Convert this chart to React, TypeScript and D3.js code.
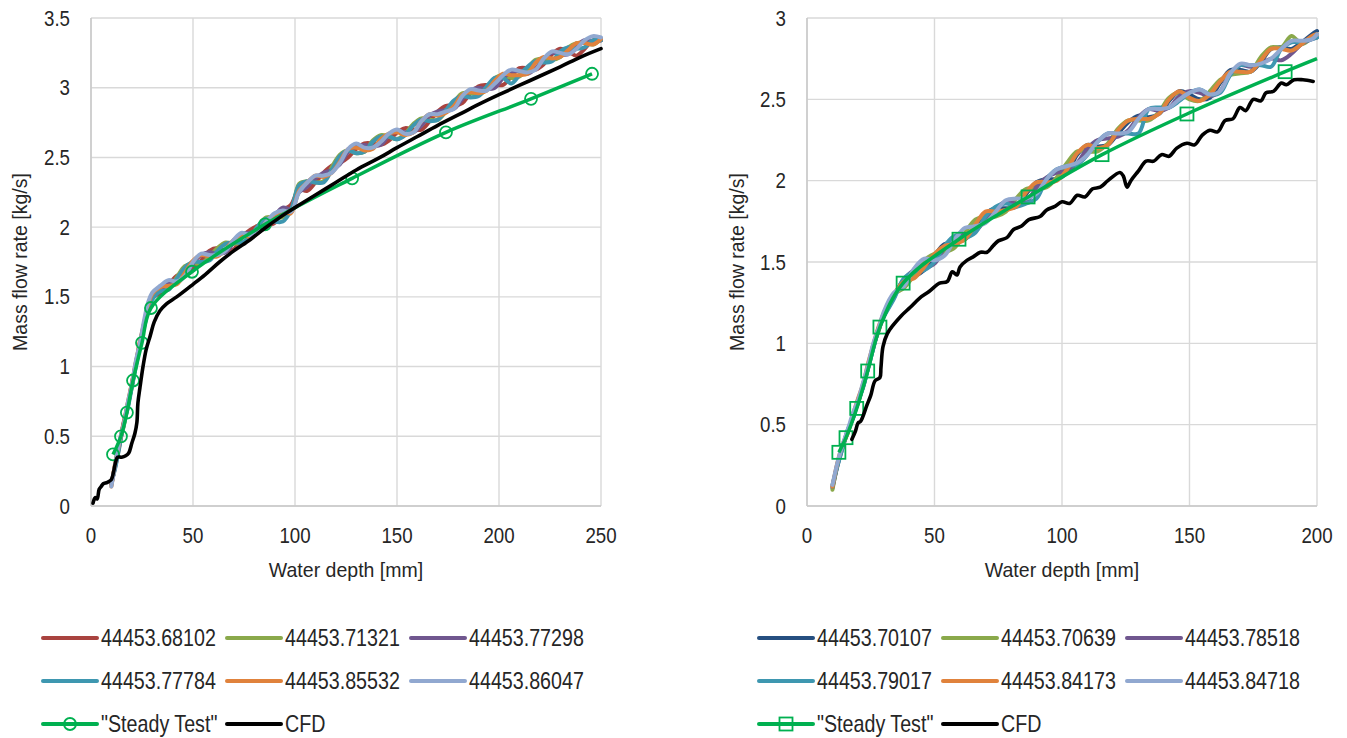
import React, { useEffect, useRef } from "react";
import * as d3 from "d3";

// ---- left panel: 6 unsteady runs, steady test, CFD ----
const depthLeft = [10, 12, 14, 16, 18, 20, 22, 24, 26, 28, 30,
  34, 38, 42, 46, 50, 54, 58, 62, 66, 70, 74, 78, 82, 86, 90, 94, 98, 102, 106, 110, 114, 118, 122, 126, 130,
  134, 138, 142, 146, 150, 154, 158, 162, 166, 170, 174, 178, 182, 186, 190, 194, 198, 202, 206, 210, 214, 218,
  222, 226, 230, 234, 238, 242, 246, 250];

const runsLeft = ["44453.68102", "44453.71321", "44453.77298", "44453.77784", "44453.85532", "44453.86047"];

const flowL68102 = [.16, .29, .44, .60, .71, .88, 1.01, 1.18, 1.29, 1.43, 1.49,
  1.53, 1.59, 1.65, 1.68, 1.70, 1.76, 1.83, 1.85, 1.83, 1.84, 1.93, 1.98, 2.01, 2.01, 2.03, 2.12, 2.16, 2.27, 2.26, 2.32,
  2.39, 2.44, 2.46, 2.50, 2.56, 2.60, 2.60, 2.59, 2.62, 2.68, 2.71, 2.70, 2.70, 2.76, 2.83, 2.87, 2.87, 2.89, 2.96, 3.01,
  3.02, 3.02, 3.02, 3.08, 3.14, 3.14, 3.13, 3.17, 3.24, 3.28, 3.26, 3.23, 3.28, 3.34, 3.34];
const flowL71321 = [.15, .31, .46, .57, .73, .85, 1.03, 1.15, 1.31, 1.41, 1.51,
  1.56, 1.56, 1.64, 1.72, 1.74, 1.74, 1.79, 1.85, 1.89, 1.88, 1.89, 1.93, 2.01, 2.07, 2.07, 2.07, 2.11, 2.31, 2.33, 2.32,
  2.33, 2.43, 2.52, 2.55, 2.53, 2.54, 2.62, 2.66, 2.65, 2.63, 2.67, 2.74, 2.78, 2.77, 2.77, 2.83, 2.90, 2.96, 2.96, 2.95,
  2.99, 3.07, 3.09, 3.07, 3.08, 3.14, 3.20, 3.21, 3.20, 3.22, 3.29, 3.32, 3.32, 3.31, 3.35];
const flowL77298 = [.16, .30, .45, .58, .72, .86, 1.02, 1.16, 1.30, 1.42, 1.50,
  1.55, 1.60, 1.60, 1.65, 1.74, 1.80, 1.82, 1.81, 1.82, 1.89, 1.95, 1.96, 1.97, 2.00, 2.08, 2.14, 2.13, 2.25, 2.29, 2.35,
  2.39, 2.41, 2.45, 2.54, 2.58, 2.59, 2.58, 2.59, 2.66, 2.69, 2.68, 2.68, 2.73, 2.80, 2.83, 2.84, 2.85, 2.92, 2.98, 3.00,
  2.99, 3.00, 3.07, 3.11, 3.12, 3.10, 3.14, 3.21, 3.25, 3.24, 3.24, 3.30, 3.34, 3.33, 3.34];
const flowL77784 = [.17, .28, .43, .59, .70, .85, 1.00, 1.15, 1.28, 1.40, 1.48,
  1.54, 1.55, 1.63, 1.71, 1.75, 1.75, 1.76, 1.83, 1.88, 1.89, 1.89, 1.93, 2.01, 2.06, 2.04, 2.04, 2.12, 2.30, 2.33, 2.32,
  2.32, 2.41, 2.51, 2.55, 2.53, 2.54, 2.61, 2.65, 2.65, 2.63, 2.66, 2.73, 2.77, 2.76, 2.77, 2.84, 2.91, 2.94, 2.93, 2.94,
  3.01, 3.07, 3.07, 3.03, 3.09, 3.15, 3.19, 3.18, 3.19, 3.26, 3.29, 3.28, 3.29, 3.34, 3.34];
const flowL85532 = [.14, .32, .46, .59, .74, .88, 1.03, 1.18, 1.31, 1.44, 1.52,
  1.57, 1.58, 1.59, 1.67, 1.76, 1.80, 1.79, 1.79, 1.84, 1.91, 1.94, 1.93, 1.96, 2.04, 2.09, 2.11, 2.10, 2.26, 2.32, 2.37,
  2.36, 2.39, 2.47, 2.56, 2.57, 2.55, 2.56, 2.63, 2.67, 2.68, 2.66, 2.68, 2.76, 2.81, 2.80, 2.82, 2.87, 2.95, 2.97, 2.96,
  2.98, 3.05, 3.10, 3.09, 3.09, 3.10, 3.18, 3.22, 3.21, 3.22, 3.27, 3.32, 3.32, 3.31, 3.35];
const flowL86047 = [.14, .31, .47, .58, .74, .87, 1.04, 1.17, 1.33, 1.46, 1.53,
  1.58, 1.62, 1.61, 1.65, 1.75, 1.81, 1.80, 1.80, 1.83, 1.91, 1.96, 1.94, 1.96, 2.04, 2.10, 2.12, 2.11, 2.25, 2.32, 2.37,
  2.37, 2.39, 2.46, 2.56, 2.60, 2.57, 2.57, 2.61, 2.67, 2.70, 2.67, 2.68, 2.76, 2.81, 2.81, 2.83, 2.85, 2.94, 2.99, 2.98,
  2.98, 3.03, 3.09, 3.13, 3.12, 3.11, 3.13, 3.21, 3.26, 3.25, 3.24, 3.28, 3.34, 3.37, 3.36];

const steadyLeftX = [10.8, 14.7, 17.6, 20.6, 25, 29.4, 49.5, 85.3, 128, 174, 215.7, 245.6];
const steadyLeftY = [0.37, 0.5, 0.67, 0.9, 1.17, 1.42, 1.68, 2.02, 2.35, 2.68, 2.92, 3.1];

const cfdLeftX = [1, 2, 3, 4, 5, 6, 8, 10, 11, 12, 13, 15, 17, 18.5, 20, 21.5, 22.5, 23, 24, 25.5, 27, 29, 31, 33.8, 37,
  42, 50, 56, 63, 70, 78, 85, 92.6, 100, 110, 120, 130, 141.7, 150, 160, 170, 182, 190, 200, 215, 230, 240, 250];
const cfdLeftY = [0.02, 0.06, 0.05, 0.12, 0.14, 0.16, 0.17, 0.19, 0.24, 0.31, 0.35, 0.35, 0.36, 0.38, 0.45, 0.52, 0.6,
  0.74, 0.85, 1.0, 1.12, 1.22, 1.32, 1.4, 1.45, 1.5, 1.59, 1.66, 1.75, 1.83, 1.91, 1.99, 2.07, 2.14, 2.23, 2.32, 2.41,
  2.5, 2.57, 2.65, 2.73, 2.82, 2.88, 2.95, 3.05, 3.15, 3.22, 3.28];

// ---- right panel ----
const depthRight = [10, 12, 14, 16, 18, 20, 22, 24, 26, 28, 30,
  34, 38, 42, 46, 50, 54, 58, 62, 66, 70, 74, 78, 82, 86, 90, 94, 98, 102, 106, 110, 114, 118, 122, 126, 130,
  134, 138, 142, 146, 150, 154, 158, 162, 166, 170, 174, 178, 182, 186, 190, 194, 198, 200];

const runsRight = ["44453.70107", "44453.70639", "44453.78518", "44453.79017", "44453.84173", "44453.84718"];

const flowR70107 = [.11, .25, .36, .46, .54, .64, .73, .85, .97, 1.08, 1.16,
  1.28, 1.39, 1.41, 1.45, 1.54, 1.61, 1.62, 1.64, 1.71, 1.80, 1.83, 1.83, 1.84, 1.92, 1.99, 2.01, 2.01, 2.05, 2.16,
  2.22, 2.21, 2.22, 2.29, 2.36, 2.40, 2.39, 2.41, 2.49, 2.55, 2.53, 2.50, 2.51, 2.60, 2.68, 2.68, 2.67, 2.73, 2.81,
  2.82, 2.81, 2.85, 2.90, 2.92];
const flowR70639 = [.10, .26, .37, .45, .56, .63, .75, .85, .99, 1.07, 1.18,
  1.30, 1.34, 1.42, 1.51, 1.55, 1.56, 1.59, 1.68, 1.76, 1.78, 1.78, 1.81, 1.89, 1.95, 1.95, 1.96, 2.02, 2.11, 2.18,
  2.18, 2.18, 2.23, 2.32, 2.37, 2.37, 2.37, 2.42, 2.51, 2.54, 2.50, 2.49, 2.55, 2.62, 2.65, 2.66, 2.67, 2.76, 2.82,
  2.82, 2.89, 2.84, 2.88, 2.90];
const flowR78518 = [.12, .26, .37, .46, .55, .64, .74, .86, .98, 1.08, 1.17,
  1.29, 1.39, 1.45, 1.46, 1.49, 1.59, 1.66, 1.67, 1.69, 1.76, 1.83, 1.87, 1.86, 1.87, 1.96, 2.02, 2.05, 2.06, 2.11,
  2.20, 2.25, 2.26, 2.27, 2.31, 2.39, 2.44, 2.43, 2.45, 2.52, 2.55, 2.54, 2.52, 2.55, 2.66, 2.71, 2.70, 2.72, 2.75,
  2.74, 2.78, 2.84, 2.87, 2.88];
const flowR79017 = [.13, .25, .36, .47, .54, .65, .73, .85, .97, 1.09, 1.16,
  1.27, 1.40, 1.44, 1.45, 1.50, 1.60, 1.66, 1.65, 1.68, 1.78, 1.84, 1.86, 1.84, 1.86, 1.89, 2.01, 2.07, 2.09, 2.10,
  2.16, 2.24, 2.29, 2.29, 2.29, 2.29, 2.44, 2.45, 2.45, 2.49, 2.54, 2.56, 2.53, 2.54, 2.65, 2.71, 2.71, 2.71, 2.70,
  2.81, 2.85, 2.85, 2.87, 2.88];
const flowR84173 = [.12, .27, .38, .45, .56, .66, .75, .88, .99, 1.10, 1.18,
  1.30, 1.38, 1.40, 1.47, 1.55, 1.60, 1.61, 1.64, 1.73, 1.81, 1.81, 1.82, 1.84, 1.93, 1.99, 1.99, 2.00, 2.07, 2.17,
  2.22, 2.20, 2.22, 2.31, 2.37, 2.38, 2.38, 2.41, 2.50, 2.55, 2.51, 2.49, 2.53, 2.61, 2.67, 2.67, 2.67, 2.74, 2.81,
  2.81, 2.80, 2.84, 2.89, 2.90];
const flowR84718 = [.13, .27, .38, .47, .57, .65, .76, .87, 1.00, 1.09, 1.19,
  1.31, 1.35, 1.46, 1.52, 1.51, 1.54, 1.64, 1.71, 1.72, 1.74, 1.81, 1.88, 1.89, 1.89, 1.92, 2.01, 2.07, 2.09, 2.11,
  2.16, 2.24, 2.29, 2.29, 2.30, 2.38, 2.44, 2.44, 2.45, 2.50, 2.54, 2.56, 2.53, 2.55, 2.66, 2.72, 2.71, 2.72, 2.75,
  2.81, 2.86, 2.86, 2.87, 2.90];

// last point closes the curve at the axis edge, no marker there
const steadyRightX = [12.5, 15.3, 19.5, 23.8, 28.6, 37.7, 59.6, 86.7, 115.7, 149, 187.5, 200];
const steadyRightY = [0.33, 0.42, 0.6, 0.83, 1.1, 1.37, 1.64, 1.9, 2.16, 2.41, 2.67, 2.75];

const cfdRightX = [17.6, 19, 20, 21, 23.5, 25, 26.7, 28.6, 29, 29.8, 31.5, 33.7, 37, 40.4, 44.3, 48, 52, 55, 57, 58.8,
  60, 62.7, 65, 68, 70.6, 73, 75, 78.4, 81, 84, 87, 91.4, 94, 97, 100, 103, 106, 109, 112, 115, 118, 122.7, 124,
  125.5, 127, 130, 133, 136, 139, 142, 145, 149, 152, 155, 158, 161, 164, 167, 169.8, 172, 175, 178, 180, 183, 186,
  188, 191, 194.5, 198.5];
const cfdRightY = [0.41, 0.46, 0.51, 0.52, 0.62, 0.68, 0.77, 0.79, 0.85, 0.98, 1.06, 1.11, 1.17, 1.22, 1.28, 1.32,
  1.37, 1.38, 1.44, 1.42, 1.47, 1.51, 1.53, 1.56, 1.56, 1.6, 1.63, 1.65, 1.7, 1.72, 1.76, 1.78, 1.82, 1.84, 1.87,
  1.86, 1.91, 1.9, 1.95, 1.96, 2.0, 2.05, 2.03, 1.96, 2.0, 2.06, 2.12, 2.12, 2.16, 2.15, 2.2, 2.23, 2.22, 2.28, 2.31,
  2.3, 2.37, 2.38, 2.45, 2.43, 2.5, 2.49, 2.54, 2.55, 2.6, 2.59, 2.62, 2.62, 2.61];

const colorsLeft = ["#a9433f", "#8aa94b", "#70578f", "#3e97b0", "#e0823c", "#91a8d0"];
const colorsRight = ["#254f80", "#8aa94b", "#70578f", "#3e97b0", "#e0823c", "#91a8d0"];
const STEADY = "#00b050";
const FONT = "'Liberation Sans', Arial, sans-serif";
const INK = "#262626";

type Panel = {
  left: number;
  xMax: number;
  yMax: number;
  depth: number[];
  runs: string[];
  flows: number[][];
  colors: string[];
  steadyX: number[];
  steadyY: number[];
  steadyMarkers: number;
  marker: "circle" | "square";
  cfdX: number[];
  cfdY: number[];
  titleX: number;
  legendX: number;
};

const panels: Panel[] = [
  {
    left: 91, xMax: 250, yMax: 3.5, depth: depthLeft, runs: runsLeft,
    flows: [flowL68102, flowL71321, flowL77298, flowL77784, flowL85532, flowL86047],
    colors: colorsLeft, steadyX: steadyLeftX, steadyY: steadyLeftY, steadyMarkers: steadyLeftX.length,
    marker: "circle", cfdX: cfdLeftX, cfdY: cfdLeftY, titleX: 20, legendX: 43,
  },
  {
    left: 807, xMax: 200, yMax: 3, depth: depthRight, runs: runsRight,
    flows: [flowR70107, flowR70639, flowR78518, flowR79017, flowR84173, flowR84718],
    colors: colorsRight, steadyX: steadyRightX, steadyY: steadyRightY, steadyMarkers: steadyRightX.length - 1,
    marker: "square", cfdX: cfdRightX, cfdY: cfdRightY, titleX: 737, legendX: 759,
  },
];

const label = (sel, txt, x, y, size, sx, anchor, rotate = 0) =>
  sel.append("text")
    .attr("transform", `translate(${x},${y}) rotate(${rotate}) scale(${sx},1)`)
    .attr("text-anchor", anchor)
    .attr("dominant-baseline", "central")
    .style("font-family", FONT)
    .style("font-size", `${size}px`)
    .style("fill", INK)
    .text(txt);

function drawMarker(g, kind, cx, cy) {
  if (kind === "circle") {
    g.append("circle").attr("cx", cx).attr("cy", cy).attr("r", 6)
      .style("fill", "none").style("stroke", STEADY).style("stroke-width", 1.8);
  } else {
    g.append("rect").attr("x", cx - 6.5).attr("y", cy - 6.5).attr("width", 13).attr("height", 13)
      .style("fill", "none").style("stroke", STEADY).style("stroke-width", 1.8);
  }
}

function drawPanel(svg, p: Panel) {
  const width = 510;
  const top = 18;
  const bottom = 506;
  const x = d3.scaleLinear().domain([0, p.xMax]).range([p.left, p.left + width]);
  const y = d3.scaleLinear().domain([0, p.yMax]).range([bottom, top]);
  const g = svg.append("g");

  const xt = x.ticks(p.xMax / 50);
  const yt = y.ticks(p.yMax * 2);

  g.selectAll(".gx").data(xt).enter().append("line")
    .attr("x1", (d) => x(d)).attr("x2", (d) => x(d)).attr("y1", top).attr("y2", bottom)
    .style("stroke", "#d9d9d9").style("stroke-width", 1.4);
  g.selectAll(".gy").data(yt).enter().append("line")
    .attr("x1", p.left).attr("x2", p.left + width).attr("y1", (d) => y(d)).attr("y2", (d) => y(d))
    .style("stroke", "#d9d9d9").style("stroke-width", 1.4);
  g.append("line").attr("x1", p.left).attr("x2", p.left).attr("y1", top).attr("y2", bottom)
    .style("stroke", "#c8c8c8").style("stroke-width", 1.4);
  g.append("line").attr("x1", p.left).attr("x2", p.left + width).attr("y1", bottom).attr("y2", bottom)
    .style("stroke", "#c8c8c8").style("stroke-width", 1.4);

  xt.forEach((d) => label(g, String(d), x(d), 535, 22, 0.85, "middle"));
  yt.forEach((d) => label(g, String(d), p.left - 21, y(d), 22, 0.85, "end"));
  label(g, "Water depth [mm]", p.left + width / 2, 570, 21, 0.93, "middle");
  label(g, "Mass flow rate [kg/s]", p.titleX, (top + bottom) / 2, 21, 0.93, "middle", -90);

  const line = d3.line<number[]>().x((d) => x(d[0])).y((d) => y(d[1])).curve(d3.curveCatmullRom);

  p.flows.forEach((vals, i) => {
    g.append("path")
      .datum(p.depth.map((d, k) => [d, vals[k]]))
      .attr("d", line)
      .style("fill", "none").style("stroke", p.colors[i]).style("stroke-width", 4)
      .style("stroke-linejoin", "round").style("stroke-linecap", "round");
  });

  g.append("path")
    .datum(p.steadyX.map((d, k) => [d, p.steadyY[k]]))
    .attr("d", line)
    .style("fill", "none").style("stroke", STEADY).style("stroke-width", 3.5);
  p.steadyX.slice(0, p.steadyMarkers).forEach((d, k) => drawMarker(g, p.marker, x(d), y(p.steadyY[k])));

  g.append("path")
    .datum(p.cfdX.map((d, k) => [d, p.cfdY[k]]))
    .attr("d", line)
    .style("fill", "none").style("stroke", "#000").style("stroke-width", 3.6)
    .style("stroke-linejoin", "round").style("stroke-linecap", "round");

  // legend, 3 columns
  const cols = [p.legendX, p.legendX + 184, p.legendX + 368];
  const rows = [638, 681, 724];
  const items = p.runs.map((name, i) => ({ name, color: p.colors[i], kind: "run" }))
    .concat([{ name: "\"Steady Test\"", color: STEADY, kind: "steady" }, { name: "CFD", color: "#000", kind: "cfd" }]);
  items.forEach((it, i) => {
    const lx = cols[i % 3];
    const ly = rows[Math.floor(i / 3)];
    g.append("line").attr("x1", lx).attr("x2", lx + 54).attr("y1", ly).attr("y2", ly)
      .style("stroke", it.color).style("stroke-width", 4).style("stroke-linecap", "round");
    if (it.kind === "steady") drawMarker(g, p.marker, lx + 27, ly);
    label(g, it.name, lx + 58, ly, 24, 0.82, "start");
  });
}

const App = () => {
  const svgRef = useRef<SVGSVGElement>(null);

  useEffect(() => {
    document.body.style.margin = "0";
    const svg = d3.select(svgRef.current);
    svg.selectAll("*").remove();
    panels.forEach((p) => drawPanel(svg, p));
  }, []);

  return <svg ref={svgRef} width={1347} height={738} style={{ display: "block", background: "#fff" }}></svg>;
};

export default App;
